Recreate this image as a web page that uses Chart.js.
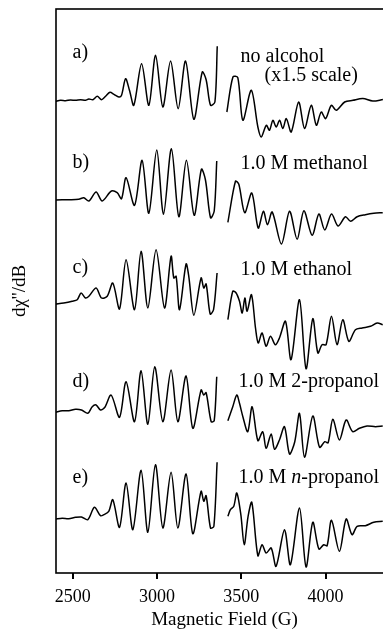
<!DOCTYPE html>
<html>
<head>
<meta charset="utf-8">
<script src="https://cdn.jsdelivr.net/npm/chart.js@4.4.1/dist/chart.umd.min.js"></script>
<style>
  html, body { margin: 0; padding: 0; background: #fff; overflow: hidden; }
  #wrap { width: 393px; height: 630px; }
</style>
</head>
<body>
<div id="wrap"><canvas id="esrChart" width="393" height="630"></canvas></div>
<script>
// magnetic field (G) and derivative signal (arb. units); null = gap in the sweep
const fieldA = [2397, 2427, 2457, 2486, 2516, 2546, 2575, 2595, 2619, 2645, 2670, 2694, 2720, 2744, 2773, 2789, 2813, 2836, 2862, 2908, 2951, 2991, 3034, 3080, 3125, 3169, 3218, 3268, 3291, 3317, 3343, 3357,
  3390,
  3414, 3450, 3479, 3509, 3559, 3598, 3618, 3648, 3667, 3687, 3707, 3727, 3746, 3767, 3796, 3840, 3875, 3915, 3945, 3974, 4000, 4034, 4063, 4113, 4162, 4221, 4280, 4340];
const signalA = [-0.3, 0.7, 0.3, 1, 0.7, 1.3, 0.7, 2, 1.3, 4.7, 1.3, 4.7, 8.7, 6.7, 4, 5.7, 22.3, 10.7, -4.3, 37.3, -4.3, 45.7, -6, 40, -7.7, 40, -18.3, 29, 21.3, -4.3, -1, 54.7,
  null,
  -11, 24, 23.4, -19.3, 10.7, -26, -36, -24.3, -29.3, -19.3, -26, -19.3, -27.6, -17.6, -31, -1, -27.6, -4.3, -24.3, -11, -17.6, -4.3, -9.3, -1, 0.7, 2.4, 0, 1.4];

const fieldB = [2397, 2476, 2535, 2565, 2595, 2638, 2674, 2729, 2763, 2789, 2816, 2866, 2911, 2951, 2998, 3038, 3085, 3129, 3174, 3220, 3263, 3287, 3317, 3339, 3354,
  3390,
  3420, 3465, 3485, 3520, 3562, 3600, 3631, 3655, 3683, 3738, 3786, 3831, 3871, 3920, 3960, 3995, 4035, 4074, 4118, 4148, 4187, 4236, 4286, 4339];
const signalB = [0, 0.3, 0.7, 2.3, -1, 8, -1, 9, 7.3, 1.3, 22.3, -5.3, 39.7, -13.3, 50, -14.3, 51.3, -16.7, 39.7, -15.3, 30.7, 20, -17.7, -11, 39,
  null,
  -22.3, 18.7, 15.7, -12.7, 7, -28, -11.3, -24.7, -12, -44, -11.3, -39.3, -10.7, -35.3, -14, -30, -14, -26, -16.7, -21.3, -16.7, -14.7, -13.3, -12.7];

const fieldC = [2397, 2446, 2496, 2526, 2549, 2575, 2595, 2638, 2670, 2704, 2737, 2777, 2816, 2866, 2905, 2945, 2994, 3044, 3083, 3099, 3113, 3133, 3172, 3188, 3218, 3261, 3277, 3291, 3315, 3335, 3356,
  3390,
  3420, 3449, 3469, 3489, 3505, 3521, 3534, 3560, 3584, 3600, 3623, 3647, 3673, 3702, 3726, 3762, 3795, 3845, 3884, 3924, 3954, 3979, 4003, 4035, 4068, 4102, 4138, 4177, 4217, 4266, 4306, 4339];
const signalC = [-1, 0, 1.7, 3.3, 10, 5, 6.7, 15, 5, 6.7, 20, -6, 43.3, -6.7, 51.7, -5, 53.3, -5, 46.7, 25, 26.7, -6.7, 39, 26.7, -12.3, 25, 15, 19, -11, -6.7, 30,
  null,
  -16.7, 11.7, 10, 1.7, -10, 5, -8.3, 8.3, -25, -40, -30, -43.3, -33.3, -41.7, -35, -18.3, -56.7, 3.3, -65.7, -15.7, -50, -41.7, -41.7, -13.3, -41.7, -16.7, -38.3, -26.7, -25, -23.3, -20, -21.7];

const fieldD = [2397, 2437, 2476, 2516, 2551, 2589, 2615, 2638, 2664, 2690, 2727, 2777, 2816, 2866, 2905, 2945, 2986, 3034, 3083, 3123, 3172, 3212, 3261, 3277, 3291, 3321, 3339, 3354,
  3390,
  3420, 3449, 3473, 3489, 3509, 3538, 3564, 3598, 3627, 3647, 3677, 3697, 3726, 3756, 3786, 3817, 3845, 3875, 3924, 3964, 3995, 4015, 4043, 4082, 4122, 4161, 4201, 4246, 4296, 4339];
const signalD = [-2.3, -0.7, -0.7, 0.7, 0, -3.3, 3.3, 5, 0, 2.7, 15, -7.3, 28.3, -11.7, 39.3, -14.3, 43.3, -11.7, 40, -11.7, 34, -18.3, 20, 15, 17.3, -11.7, -10.7, 33.3,
  null,
  -10.7, 3.3, 15, 6.7, -6.7, -21.7, 3.3, -30.7, -21.7, -38.3, -24, -39.3, -30, -16.7, -44, -31.7, -3.3, -47.3, -6, -37.3, -31.7, -32.7, -9.3, -30, -10, -21.7, -18.3, -16, -16.7, -16];

const fieldE = [2397, 2437, 2476, 2516, 2551, 2589, 2628, 2664, 2684, 2713, 2737, 2777, 2816, 2856, 2905, 2945, 2990, 3034, 3083, 3123, 3172, 3212, 3261, 3277, 3291, 3317, 3337, 3356,
  3390,
  3420, 3435, 3455, 3473, 3497, 3517, 3540, 3562, 3598, 3623, 3647, 3677, 3706, 3756, 3791, 3845, 3884, 3924, 3960, 3989, 4009, 4035, 4082, 4122, 4157, 4187, 4236, 4286, 4339];
const signalE = [-1, -0.3, -0.7, 0.7, 1, -1.7, 10.7, 2.3, 3.3, 6.7, 18.3, -9.3, 35, -11.7, 47.7, -14.3, 53.3, -10, 45.7, -10, 44, -15.7, 26.7, 16.7, 22.3, -10, -8.3, 55.7,
  null,
  1.7, 8.3, 11.7, 25, 3.3, -26.7, 1.7, 15.7, -37.7, -26.7, -35, -30, -48.3, -11.7, -46.7, 10, -49, -4.3, -31, -26.7, -27.7, -2.3, -33.3, -1, -16.7, -8.3, -7.7, -4.3, -3.3];

// vertical offset of each spectrum in the stack
const traceOffsets = [472, 373, 270, 163, 55];
const panelLetters = ['a)', 'b)', 'c)', 'd)', 'e)'];
const sampleNames = ['no alcohol', '1.0 M methanol', '1.0 M ethanol', '1.0 M 2-propanol', '1.0 M n-propanol'];
const scaleNote = '(x1.5 scale)';
const fieldTicks = [2500, 3000, 3500, 4000];

const traces = [[fieldA, signalA], [fieldB, signalB], [fieldC, signalC], [fieldD, signalD], [fieldE, signalE]];

// label anchors in data units (field, stacked y)
const labelPos = {
  letterX: 2498,
  letterY: [515, 405, 300, 186, 90],
  nameX: [3495, 3495, 3495, 3483, 3483],
  nameY: [511, 404, 298, 186, 90],
  noteX: 3638,
  noteY: 492
};

const SERIF = '"Liberation Serif", "Times New Roman", serif';

function drawName(ctx, text, px, py) {
  const m = text.match(/^(.* )(n)(-.*)$/);
  if (!m) {
    ctx.font = '20px ' + SERIF;
    ctx.fillText(text, px, py);
    return;
  }
  let cx = px;
  [[m[1], false], [m[2], true], [m[3], false]].forEach(([t, it]) => {
    ctx.font = (it ? 'italic ' : '') + '20px ' + SERIF;
    ctx.fillText(t, cx, py);
    cx += ctx.measureText(t).width;
  });
}

// box round the plot area, plus the outward tick marks on the field axis
const framePlugin = {
  id: 'frame',
  afterDraw(chart) {
    const { ctx, chartArea: a, scales: { x } } = chart;
    ctx.save();
    ctx.strokeStyle = '#000';
    ctx.lineWidth = 1.6;
    ctx.strokeRect(a.left, a.top, a.right - a.left, a.bottom - a.top);
    ctx.lineWidth = 2;
    ctx.beginPath();
    fieldTicks.forEach(v => {
      const px = Math.round(x.getPixelForValue(v));
      ctx.moveTo(px, a.bottom);
      ctx.lineTo(px, a.bottom + 6);
    });
    ctx.stroke();
    ctx.restore();
  }
};

const labelPlugin = {
  id: 'panelLabels',
  afterDatasetsDraw(chart) {
    const { ctx, scales: { x, y } } = chart;
    ctx.save();
    ctx.fillStyle = '#000';
    ctx.textAlign = 'left';
    ctx.textBaseline = 'alphabetic';
    panelLetters.forEach((t, i) => {
      ctx.font = '20px ' + SERIF;
      ctx.fillText(t, x.getPixelForValue(labelPos.letterX), y.getPixelForValue(labelPos.letterY[i]));
      drawName(ctx, sampleNames[i], x.getPixelForValue(labelPos.nameX[i]), y.getPixelForValue(labelPos.nameY[i]));
    });
    ctx.font = '20px ' + SERIF;
    ctx.fillText(scaleNote, x.getPixelForValue(labelPos.noteX), y.getPixelForValue(labelPos.noteY));
    ctx.restore();
  }
};

const ctx = document.getElementById('esrChart').getContext('2d');
const esrChart = new Chart(ctx, {
  type: 'line',
  data: {
    datasets: traces.map(([f, s], i) => ({
      data: f.map((g, k) => ({ x: g, y: s[k] === null ? null : s[k] + traceOffsets[i] })),
      borderColor: '#000',
      borderWidth: 1.5,
      pointRadius: 0,
      fill: false,
      spanGaps: false,
      tension: 0.3
    }))
  },
  options: {
    responsive: false,
    animation: false,
    layout: { padding: { top: 9, left: 0, right: 0, bottom: 0 } },
    plugins: { legend: { display: false }, tooltip: { enabled: false } },
    scales: {
      x: {
        type: 'linear',
        min: 2400,
        max: 4400,
        afterBuildTicks: s => { s.ticks = fieldTicks.map(v => ({ value: v })); },
        afterFit: s => { s.height = 57; },
        grid: { display: false },
        border: { display: false },
        ticks: { color: '#000', font: { family: SERIF, size: 18 }, padding: 5, maxRotation: 0, callback: v => String(v) },
        title: { display: true, text: 'Magnetic Field (G)', color: '#000', font: { family: SERIF, size: 19, lineHeight: 1.0 }, padding: 0 }
      },
      y: {
        type: 'linear',
        min: 0,
        max: 564,
        afterFit: s => { s.width = 56; },
        grid: { display: false },
        border: { display: false },
        ticks: { display: false },
        title: { display: true, text: "d\u03c7''/dB", color: '#000', font: { family: SERIF, size: 19 }, padding: { top: 9, bottom: 0 } }
      }
    }
  },
  plugins: [framePlugin, labelPlugin]
});
</script>
</body>
</html>
